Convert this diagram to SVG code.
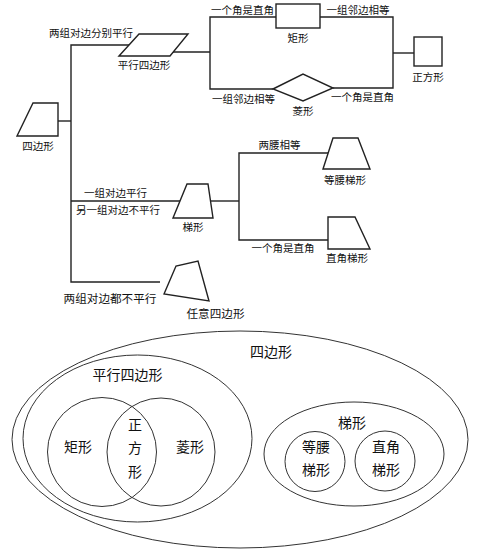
<svg xmlns="http://www.w3.org/2000/svg" width="487" height="553" viewBox="0 0 487 553">
<style>
text{font-family:"Noto Sans CJK SC","Noto Sans",sans-serif;fill:#111;text-anchor:middle}
.s{font-size:10.5px}
.m{font-size:11.6px}
.b{font-size:14px}
.shape{fill:#fff;stroke:#222;stroke-width:1.4}
.ln{fill:none;stroke:#222;stroke-width:1.4}
.ring{fill:none;stroke:#333;stroke-width:1}
</style>
<rect width="487" height="553" fill="#fff"/>
<g id="connectors" class="ln">
<polyline points="58,121 71,121"/>
<polyline points="129,45 71,45 71,282 160,282"/>
<polyline points="71,201 180,201"/>
<polyline points="172,52 210,52"/>
<polyline points="276,17 210,17 210,89 273,89"/>
<polyline points="320,17 393,17 393,88 333,88"/>
<polyline points="393,53 414,53"/>
<polyline points="211,201 239,201"/>
<polyline points="328,153 239,153 239,240 328,240"/>
</g>
<g id="quad">
<polygon class="shape" points="17,136 33,103 58,103 58,136"/>
<text class="s" x="38" y="150">四边形</text>
</g>
<g id="parallelogram">
<polygon class="shape" points="119,56 139,34 188,34 170,56"/>
<text class="s" x="144" y="69">平行四边形</text>
</g>
<g id="rectangle">
<rect class="shape" x="276" y="4" width="44" height="24"/>
<text class="s" x="298" y="42">矩形</text>
</g>
<g id="rhombus">
<polygon class="shape" points="273,89 303,74 333,88 303,101"/>
<text class="s" x="303" y="115">菱形</text>
</g>
<g id="square">
<rect class="shape" x="414" y="37" width="28" height="29"/>
<text class="s" x="428" y="81">正方形</text>
</g>
<g id="trapezoid">
<polygon class="shape" points="173,218 187,184 208,184 213,218"/>
<text class="s" x="193" y="231">梯形</text>
</g>
<g id="iso-trapezoid">
<polygon class="shape" points="323,169 333,138 358,138 370,169"/>
<text class="s" x="345" y="184">等腰梯形</text>
</g>
<g id="right-trapezoid">
<polygon class="shape" points="328,217 355,217 370,249 328,249"/>
<text class="s" x="347" y="262">直角梯形</text>
</g>
<g id="any-quad">
<polygon class="shape" points="164,294 176,266 198,261 209,301"/>
<text class="m" x="215.5" y="317.5">任意四边形</text>
</g>
<g id="edge-labels">
<text class="s" x="91" y="37">两组对边分别平行</text>
<text class="s" x="242.5" y="13.5">一个角是直角</text>
<text class="s" x="358" y="14">一组邻边相等</text>
<text class="s" x="243.5" y="103">一组邻边相等</text>
<text class="s" x="362.5" y="101">一个角是直角</text>
<text class="s" x="279.5" y="149">两腰相等</text>
<text class="s" x="283" y="252">一个角是直角</text>
<text class="s" x="115.5" y="197">一组对边平行</text>
<text class="s" x="118" y="214">另一组对边不平行</text>
<text class="m" x="110" y="302.5">两组对边都不平行</text>
</g>
<g id="venn-quad">
<ellipse class="ring" cx="240" cy="439.5" rx="228" ry="108.5"/>
<text class="b" x="271" y="357">四边形</text>
</g>
<g id="venn-parallelogram">
<ellipse class="ring" cx="137.5" cy="438.5" rx="114.5" ry="83.5"/>
<text class="b" x="127.5" y="380">平行四边形</text>
</g>
<g id="venn-rectangle">
<circle class="ring" cx="102" cy="452" r="54.5"/>
<text class="b" x="78" y="452">矩形</text>
</g>
<g id="venn-rhombus">
<circle class="ring" cx="161" cy="452" r="54"/>
<text class="b" x="190" y="452">菱形</text>
</g>
<g id="venn-square">
<text class="b" x="135" y="430">正</text>
<text class="b" x="135" y="453">方</text>
<text class="b" x="135" y="477">形</text>
</g>
<g id="venn-trapezoid">
<ellipse class="ring" cx="354" cy="454" rx="90" ry="52"/>
<text class="b" x="352" y="428">梯形</text>
</g>
<g id="venn-iso">
<circle class="ring" cx="315" cy="461.5" r="30"/>
<text class="b" x="316" y="452">等腰</text>
<text class="b" x="316" y="475">梯形</text>
</g>
<g id="venn-right">
<circle class="ring" cx="385" cy="461" r="30"/>
<text class="b" x="386" y="452">直角</text>
<text class="b" x="386" y="475">梯形</text>
</g>
</svg>
